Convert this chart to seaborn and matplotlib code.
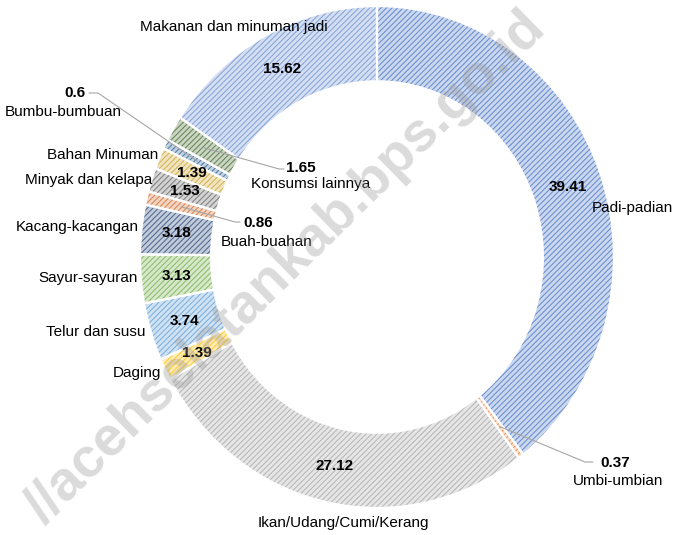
import matplotlib
matplotlib.use("Agg")
import matplotlib.pyplot as plt
import seaborn as sns
import numpy as np
from matplotlib.colors import to_rgb

# ---------------- data ----------------
categories = ["Padi-padian", "Umbi-umbian", "Ikan/Udang/Cumi/Kerang", "Daging",
              "Telur dan susu", "Sayur-sayuran", "Kacang-kacangan", "Buah-buahan",
              "Minyak dan kelapa", "Bahan Minuman", "Bumbu-bumbuan",
              "Konsumsi lainnya", "Makanan dan minuman jadi"]
values = [39.41, 0.37, 27.12, 1.39, 3.74, 3.13, 3.18, 0.86, 1.53, 1.39, 0.6, 1.65, 15.62]
value_labels = ["39.41", "0.37", "27.12", "1.39", "3.74", "3.13", "3.18", "0.86",
                "1.53", "1.39", "0.6", "1.65", "15.62"]

# ---------------- style ----------------
colors = ["#4472C4", "#ED7D31", "#A5A5A5", "#FFC000", "#5B9BD5", "#70AD47",
          "#264478", "#D2692A", "#636363", "#C9A227", "#255E91", "#43682B", "#698ED0"]

sns.set_theme(style="white")
plt.rcParams["font.family"] = ["Liberation Sans", "DejaVu Sans"]
plt.rcParams["hatch.linewidth"] = 0.8

W, H = 678, 535
CX, CY = 377, 257          # ring centre in pixels (from top)
RX, RY = 237, 251          # outer radii in pixels
RING = 0.30

fig = plt.figure(figsize=(W / 100, H / 100), dpi=100)
ax = fig.add_axes([0, 0, 1, 1])


def blend(c, f):
    r = np.array(to_rgb(c))
    return tuple(r * (1 - f) + f)


wedges, _ = ax.pie(values, startangle=90, counterclock=False, radius=1,
                   wedgeprops=dict(width=RING, linewidth=0))
for w, c in zip(wedges, colors):
    w.set_facecolor(blend(c, 0.72))
    w.set_edgecolor(blend(c, 0.22))
    w.set_hatch("//////")
    w.set_linewidth(0)

ax.pie(values, startangle=90, counterclock=False, radius=1,
       wedgeprops=dict(width=RING, facecolor="none", edgecolor="white", linewidth=1.6))

ax.set_aspect("auto")
ax.set_xlim(-CX / RX, (W - CX) / RX)
ax.set_ylim(-(H - CY) / RY, CY / RY)
ax.axis("off")


def px(x, y):
    return ((x - CX) / RX, (CY - y) / RY)


# mid angles
tot = sum(values)
cum = np.cumsum([0] + values[:-1])
mids = [np.deg2rad(90 - (c + v / 2) / tot * 360) for c, v in zip(cum, values)]

FS = 11
inside = {0, 2, 3, 4, 5, 6, 8, 9, 12}
for i in inside:
    a = mids[i]
    ax.text(0.85 * np.cos(a), 0.85 * np.sin(a), value_labels[i], ha="center", va="center",
            fontsize=FS, fontweight="bold", color="black", zorder=5)

# category names for inside-labelled slices
name_pos = {
    0: (592, 208, "left"),
    2: (343, 523, "center"),
    3: (161, 373, "right"),
    4: (146, 332, "right"),
    5: (138, 278, "right"),
    6: (139, 227, "right"),
    8: (152, 180, "right"),
    9: (158, 155, "right"),
    12: (234, 27, "center"),
}
for i, (x, y, ha) in name_pos.items():
    ax.text(*px(x, y), categories[i], ha=ha, va="center", fontsize=FS, color="black", zorder=5)

# outside labels with leader lines: (value x,y), (name x,y), leader start
outside = {
    1: ((615, 463), (618, 481), (593, 462), (585, 462)),
    7: ((258, 223), (267, 242), (240, 222), (235, 222)),
    10: ((75, 93), (63, 112), (89, 93), (98, 93)),
    11: ((301, 168), (311, 184), (284, 169), (279, 169)),
}
for i, (vp, npos, s0, s1) in outside.items():
    ax.text(*px(*vp), value_labels[i], ha="center", va="center", fontsize=FS,
            fontweight="bold", color="black", zorder=5)
    ax.text(*px(*npos), categories[i], ha="center", va="center", fontsize=FS,
            color="black", zorder=5)
    a = mids[i]
    ex, ey = 0.85 * np.cos(a), 0.85 * np.sin(a)
    p0, p1 = px(*s0), px(*s1)
    ax.plot([p0[0], p1[0], ex], [p0[1], p1[1], ey], color="#a6a6a6", lw=0.8, zorder=4)

# watermark
ax.text(*px(286, 268), "//acehselatankab.bps.go.id", rotation=44.5, ha="center",
        va="center", fontsize=40, fontweight="bold", color="#9a9a9a", alpha=0.36,
        family=["Liberation Sans", "DejaVu Sans"], zorder=6)

fig.savefig("out.png", dpi=100)
